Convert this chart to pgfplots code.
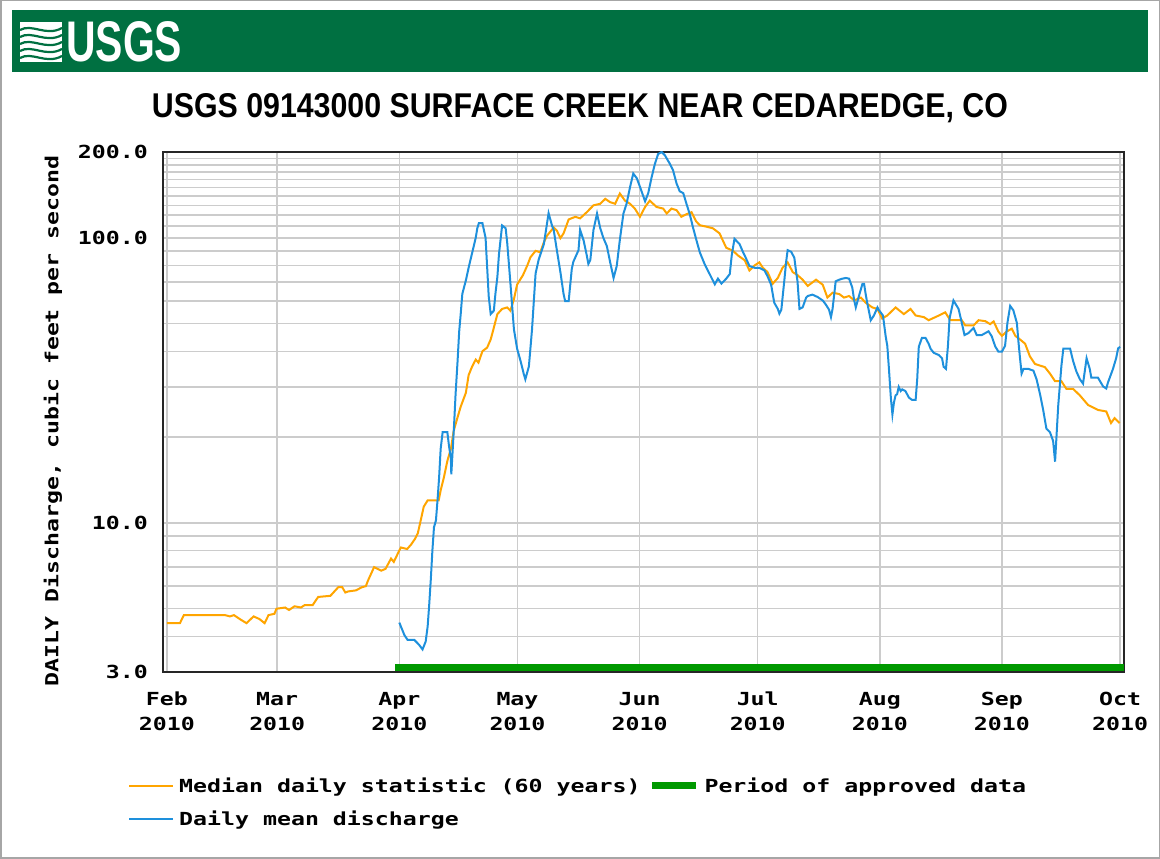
\documentclass[border=0pt]{standalone}
\usepackage{fontspec}
\usepackage{pgfplots}
\pgfplotsset{compat=1.18}
\setmainfont{Liberation Sans}
\newfontfamily\usgsmono[FakeStretch=1.29]{DejaVu Sans Mono}
\definecolor{usgsgreen}{RGB}{0,112,65}
\definecolor{medorange}{RGB}{255,165,0}
\definecolor{dailyblue}{RGB}{30,144,220}
\definecolor{apprgreen}{RGB}{0,153,0}
\definecolor{gridgray}{RGB}{204,204,204}
\newcommand{\lblfont}{\usgsmono\bfseries\fontsize{18}{25}\selectfont}

\pgfplotstableread{
day val
0 4.45
3.3 4.45
4.3 4.75
14.7 4.75
16 4.7
17 4.75
18.5 4.6
20.2 4.45
22 4.7
23.5 4.6
24.8 4.45
25.8 4.75
27.3 4.8
27.8 5.0
30 5.05
31 4.95
32.4 5.1
34 5.05
35 5.15
37 5.15
38.4 5.5
41.5 5.55
43.5 5.95
44.5 5.95
45.3 5.7
46 5.75
48 5.8
49.5 5.95
50.5 6.0
51.1 6.3
52.6 7.0
54.4 6.8
55.5 6.9
56.9 7.5
57.6 7.3
58.7 7.85
59.4 8.2
61 8.1
62 8.4
63 8.8
63.7 9.2
64.5 10.3
65.2 11.4
66.2 12.0
69 12.0
69.5 13.0
70.3 14.4
71.2 16.5
72.1 18.2
72.8 21
73.8 23.5
74.6 25.6
75.9 28.6
76.6 33
77.5 35.4
78.4 37.4
79.1 36.5
80.1 40
81.3 41.2
82.2 44
82.9 47.8
83.9 54
85.1 56.3
86.4 57
87.2 55.5
88.1 60.9
88.9 68.5
90.4 74
91.5 80
92.3 85.5
93.6 90
94.8 89
95.7 96.4
96.5 101.7
98.2 108.7
99 106
99.9 99.7
100.7 103.6
102 116
103.7 118.5
104.9 117
106.6 123
108.3 130
110 131.6
111.3 137
112.5 133.4
113.8 131.6
115 143
116.3 135
117.6 131.6
118.8 126.6
120.1 118.5
121.4 128.3
122.6 135
124.3 128.3
126 126.6
126.9 121.7
128.1 126.6
129.4 125
130.6 118.5
131.9 121
133.2 123
134.4 114
135.3 110.7
137 109.4
138.6 108
140.3 103.7
142 92.3
143.7 90.1
145 86.7
146.7 83.4
147.9 76.8
149.2 80
150.4 82
151.3 78.5
152.5 75.8
153.8 69
155.1 72.3
156.3 78.5
157.6 82
158.9 75.8
160.1 74
161.4 71.3
162.7 67.8
164.8 71.3
166.5 68.5
167.7 61.7
169 64.2
170.7 63.5
171.9 61.7
173.2 62.5
174.5 60.3
176.2 61.7
177.4 59.2
179.1 57
180.4 56.3
181.6 52.1
182.9 53.4
185 57
187.1 54
188.8 56.3
190.1 53.4
192.2 52.7
193.4 51.4
196 53.4
197.6 54.8
198.9 51.4
201.8 51.4
202.7 49.3
204.8 49.3
206.1 51.4
207.8 51
209 49.8
209.9 50.9
211.1 46.9
212 45.3
213.2 46.9
214.5 48
215.4 45.3
216.6 44
217.9 42.5
219.1 38.4
220.4 36.1
222.9 35.2
224.2 33.4
225.5 31.4
227.1 31.4
228.4 29.5
230.1 29.5
231.8 28
233.9 25.9
236.4 24.9
238.5 24.6
239.7 22.4
240.6 23.3
241.9 22.4
}\mediantable

\pgfplotstableread{
day val
59.0 4.47
60.3 4.04
61.1 3.89
62.8 3.89
64.0 3.74
64.9 3.60
65.7 3.84
66.2 4.34
66.6 5.19
67.0 6.35
67.4 8.0
67.8 9.65
68.3 10.2
68.7 12.0
69.1 14.4
69.5 18.2
70.0 20.8
71.2 20.8
71.6 18.7
72.1 16.8
72.2 14.8
72.5 17.5
72.9 22.0
73.3 28.5
73.8 37.1
74.2 46.9
74.6 54.3
75.0 63.6
75.9 70.9
76.7 79.7
77.5 88.6
78.4 100
78.8 108
79.2 112.6
80.1 112.6
80.9 100
81.3 79
81.7 62.3
82.2 54
83.0 55.5
83.4 63.6
83.9 73
84.3 87.5
85.1 110.5
86.0 108
86.4 95.9
87.2 69.6
88.1 47.8
88.9 40.9
89.8 36.9
90.6 33.3
91.0 31.9
91.9 35.4
92.7 47.8
93.6 75
94.4 84
95.7 95
96.9 122
97.8 110
98.2 106.6
99.0 90.5
99.9 75.8
100.7 63.6
101.1 60
102.0 60
102.8 78
103.2 82.5
104.5 90.5
104.9 106.6
105.3 102.6
105.8 97.8
106.6 86.7
107.0 81
107.5 83.7
108.3 106.6
109.2 121.6
110.0 108.3
110.8 100
111.7 93.5
112.5 82.5
113.4 72.3
114.2 79.6
115.0 98.5
115.9 121.6
116.7 131.7
117.6 151
118.4 168
119.3 161.7
120.1 151
121.4 134.3
122.2 143.4
123.1 164
123.9 181.7
124.7 196.6
125.6 200
126.4 195
127.7 181.7
128.5 172.6
129.4 155
130.2 145.6
131.1 143.4
131.9 131.7
132.7 121.6
133.6 108.3
134.4 98.5
135.3 88.9
136.5 81
137.8 74.6
139.1 68.7
139.9 71.9
140.8 69.1
142.0 71.9
142.9 74.6
143.4 86.7
144.1 99.2
145.4 95
146.2 89.5
146.7 86.7
147.9 79.6
149.2 78.5
150.4 78.5
151.7 76.9
152.5 73.3
153.4 68.5
154.2 59.2
155.1 56.3
155.5 54.2
156.0 56
156.8 71.9
157.2 82
157.6 90.5
158.5 89.3
159.3 85.1
159.7 76.9
160.1 70.4
160.6 56.3
161.4 57
162.3 61.7
162.7 62.5
163.9 63.2
165.2 62
166.5 60.3
167.3 58.3
168.1 56
168.6 52.7
169.0 56.3
169.8 70.4
170.7 71.3
171.5 71.9
172.4 72.3
173.2 71.9
174.0 67
174.5 60.3
174.9 57
175.7 62.5
176.6 69
177.0 69
177.4 63.6
177.8 59.2
178.7 51.4
179.5 53.4
180.4 57
180.8 55.7
181.8 53.4
182.5 45
182.9 41.8
183.3 35
183.8 27.5
184.2 24.0
184.6 26.5
185.0 28
185.4 28.3
185.8 30
186.3 29
186.7 29.4
187.5 29
188.4 27.5
189.2 27
190.1 27
190.5 32
190.9 41.5
191.7 44.6
192.6 44.6
193.4 42.5
193.9 40.8
194.7 39.5
196.0 38.8
196.8 37.8
197.2 35.3
197.8 34.7
198.3 41.8
198.7 52.1
199.7 60.3
201.0 56.3
201.8 50.4
202.5 45.6
203.5 46.3
204.8 48.3
205.6 45.6
206.9 45.6
208.6 47
209.4 45.2
210.3 41.6
211.1 39.9
212.0 39.9
212.8 41.8
213.4 50.3
214.1 57.7
214.9 55.7
215.8 50.3
216.2 43.2
216.6 37.8
217.0 33.4
217.5 34.7
218.7 34.7
220.0 34.2
220.8 31.9
221.7 28.2
222.5 24.8
223.3 21.4
224.2 20.8
225.0 19.4
225.5 16.4
225.9 20.6
226.3 25.8
227.1 35.5
227.6 40.9
229.3 40.9
230.1 36.9
230.9 34
231.8 31.9
232.6 30.8
233.5 37.8
234.3 34.7
234.7 32.3
236.4 32.3
237.7 30.1
238.5 29.6
238.9 31
240.2 34.7
241.0 37.8
241.5 40.9
242.0 41.5
}\dailytable

\begin{document}
\begin{tikzpicture}[x=1pt,y=1pt]
\path[use as bounding box] (0,0) rectangle (1160,859);
\draw[gray!70, line width=1.5pt] (0.75,0.75) rectangle (1159.25,858.25);
% banner
\fill[usgsgreen] (12,787) rectangle (1148,849);
\fill[white] (20,797) rectangle (62,837);
\foreach \yy in {801,808,815,822,829} {
  \draw[usgsgreen, line width=2.2pt] (20,\yy) .. controls (32,\yy+7) and (46,\yy-7) .. (62,\yy+2);
}
\node[anchor=base west, inner sep=0pt, text=white] at (66,797) {\resizebox{116pt}{40pt}{\bfseries USGS}};
% title
\node[anchor=base, inner sep=0pt] at (580,741) {\resizebox{856pt}{24pt}{\bfseries USGS 09143000 SURFACE CREEK NEAR CEDAREDGE, CO}};

\begin{axis}[
  at={(163pt,187pt)}, anchor=south west,
  scale only axis, width=961pt, height=520pt,
  xmin=-1, xmax=243,
  ymode=log, ymin=3, ymax=200,
  xtick={0,28,59,89,120,150,181,212,242},
  xticklabels={{Feb\\2010},{Mar\\2010},{Apr\\2010},{May\\2010},{Jun\\2010},{Jul\\2010},{Aug\\2010},{Sep\\2010},{Oct\\2010}},
  ytick={3,10,100,200},
  yticklabels={3.0,10.0,100.0,200.0},
  minor ytick={4,5,6,7,8,9,20,30,40,50,60,70,80,90,110,120,130,140,150,160,170,180,190},
  grid=both,
  major grid style={gridgray, line width=1.5pt},
  minor grid style={gridgray, line width=1.5pt},
  major tick length=0pt, minor tick length=0pt,
  axis line style={black!85, line width=2pt},
  tick label style={font=\lblfont},
  xticklabel style={align=center, inner sep=0pt, yshift=-20pt},
  yticklabel style={inner sep=0pt, xshift=-15pt},
  ylabel={DAILY Discharge, cubic feet per second},
  ylabel style={font=\lblfont, at={(axis description cs:-0.1145,0.483)}, anchor=center},
  legend columns=2,
  legend cell align=left,
  legend image code/.code={\draw[#1] (0pt,0pt) -- (44pt,0pt);},
  legend style={at={(axis description cs:-0.0364,-0.203)}, anchor=north west,
    draw=none, fill=none, inner sep=0pt, font=\lblfont,
    nodes={inner sep=0pt},
    /tikz/every odd column/.append style={column sep=5pt},
    /tikz/every even column/.append style={column sep=8pt},
    row sep=17pt},
]
\addplot[apprgreen, line width=7pt, forget plot] coordinates {(58,3.1) (243,3.1)};
\addplot[medorange, line width=2pt, forget plot] table[x=day, y=val] {\mediantable};
\addplot[dailyblue, line width=2pt, forget plot] table[x=day, y=val] {\dailytable};
\addlegendimage{medorange, line width=2pt}
\addlegendentry{Median daily statistic (60 years)}
\addlegendimage{apprgreen, line width=7pt}
\addlegendentry{Period of approved data}
\addlegendimage{dailyblue, line width=2pt}
\addlegendentry{Daily mean discharge}
\end{axis}
\end{tikzpicture}
\end{document}
